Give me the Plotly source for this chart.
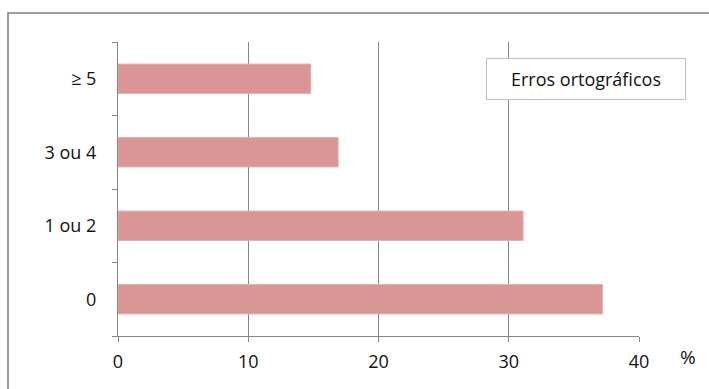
import plotly.graph_objects as go

# Number of spelling errors (categories, bottom to top) and share of texts (%)
categories = ["0", "1 ou 2", "3 ou 4", "≥ 5"]
percentages = [37.2, 31.1, 16.9, 14.8]
x_ticks = [0, 10, 20, 30, 40]
series_name = "Erros ortográficos"
axis_unit = "%"

W, H = 709, 389
L, R, T, B = 118, 70, 42, 53
plot_w = W - L - R
plot_h = H - T - B

FONT = "'Open Sans', Lato, sans-serif"
FONT_SIZE = 18
AXIS_GRAY = "#868686"

fig = go.Figure(
    go.Bar(
        x=percentages,
        y=categories,
        orientation="h",
        name=series_name,
        marker=dict(color="#D99694", line=dict(color="#E4B1B0", width=1)),
        showlegend=False,
    )
)

fig.update_layout(
    width=W,
    height=H,
    margin=dict(l=L, r=R, t=T, b=B, pad=0),
    paper_bgcolor="white",
    plot_bgcolor="white",
    bargap=0.6,
    font=dict(family=FONT, size=FONT_SIZE, color="#111111"),
    xaxis=dict(
        range=[0, 40],
        tickmode="array",
        tickvals=x_ticks,
        ticktext=[str(v) for v in x_ticks],
        showgrid=True,
        gridcolor=AXIS_GRAY,
        gridwidth=1,
        showline=True,
        linecolor=AXIS_GRAY,
        linewidth=1,
        ticks="outside",
        ticklen=5,
        tickcolor=AXIS_GRAY,
        ticklabelstandoff=4,
        zeroline=False,
        fixedrange=True,
    ),
    yaxis=dict(
        type="category",
        categoryorder="array",
        categoryarray=categories,
        tickson="boundaries",
        showgrid=False,
        showline=True,
        linecolor=AXIS_GRAY,
        linewidth=1,
        ticks="outside",
        ticklen=5,
        tickcolor=AXIS_GRAY,
        ticklabelstandoff=17,
        fixedrange=True,
    ),
)

def px_x(px):
    return (px - L) / plot_w

def px_y(py):
    return (H - B - py) / plot_h

# Chart frame (left and top edges visible inside the view)
fig.add_shape(
    type="rect",
    xref="paper", yref="paper",
    x0=px_x(8), x1=px_x(W + 20),
    y0=px_y(H + 20), y1=px_y(13),
    line=dict(color="#7f7f7f", width=1.5),
    fillcolor="rgba(0,0,0,0)",
    layer="below",
)

# Series key box
fig.add_annotation(
    xref="paper", yref="paper",
    x=px_x(586), y=px_y(79),
    xanchor="center", yanchor="middle",
    text=series_name,
    showarrow=False,
    width=196, height=38,
    bgcolor="white",
    bordercolor="#BFBFBF",
    borderwidth=1,
    font=dict(family=FONT, size=FONT_SIZE, color="#111111"),
)

# Unit label next to the value axis
fig.add_annotation(
    xref="paper", yref="paper",
    x=px_x(688), y=px_y(357),
    xanchor="center", yanchor="middle",
    text=axis_unit,
    showarrow=False,
    font=dict(family=FONT, size=FONT_SIZE + 1, color="#111111"),
)

fig.write_html("out.html")
